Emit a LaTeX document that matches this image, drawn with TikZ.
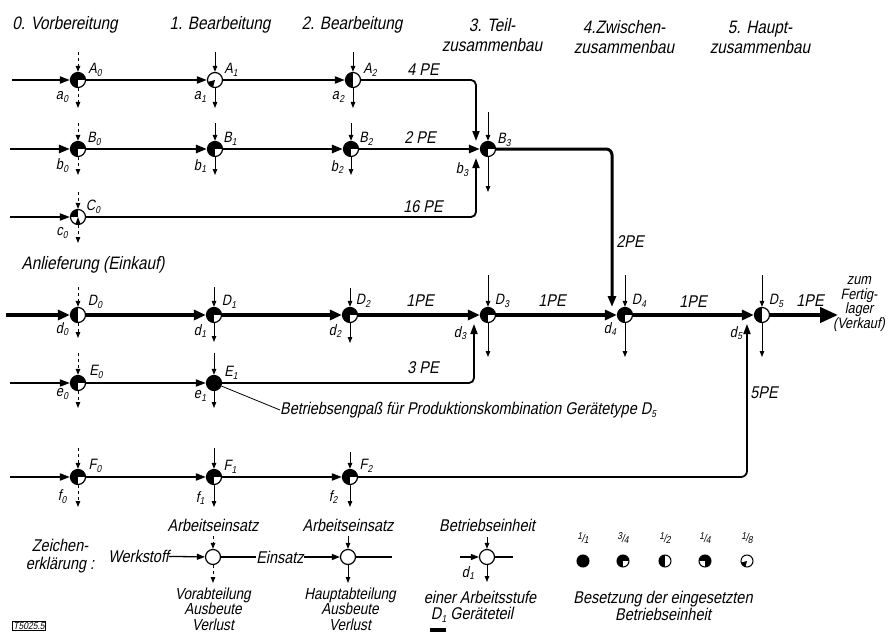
\documentclass[tikz,border=0pt]{standalone}
\usepackage{fontspec}
\setmainfont{Liberation Sans}[FakeStretch=0.85, FakeSlant=0.2]
\usetikzlibrary{arrows.meta}
\newcommand{\Sb}[2]{#1\kern0.2pt\raisebox{-0.35ex}{\fontsize{10}{10}\selectfont #2}}
\newcommand{\frc}[2]{\raisebox{0.45ex}{\fontsize{10}{10}\selectfont #1}\kern-0.5pt/\kern-0.5pt\raisebox{-0.25ex}{\fontsize{10}{10}\selectfont #2}}
\newcommand{\stn}[7]{%
  \node[#4] (#1) at (#2,#3) {};
  \coordinate (#1t) at (#2,#5);
  \coordinate (#1b) at (#2,#6);
  \draw[feed,#7] (#1t) -- (#1);
  \draw[feed,#7] (#1) -- (#1b);
}
\tikzset{
  st0/.style={circle, draw, line width=1.2pt, fill=white, minimum size=15pt, inner sep=0pt},
  f11/.style={st0, fill=black},
  f34/.style={st0, path picture={
      \fill[black] (path picture bounding box.south west) rectangle (path picture bounding box.north east);
      \fill[white] (path picture bounding box.center) rectangle (path picture bounding box.south east);}},
  f12/.style={st0, path picture={
      \fill[black] (path picture bounding box.south west) rectangle (path picture bounding box.north);}},
  f14/.style={st0, path picture={
      \fill[black] (path picture bounding box.south west) rectangle (path picture bounding box.north east);
      \fill[white] (path picture bounding box.center) rectangle (path picture bounding box.south west);}},
  f18/.style={st0, path picture={
      \fill[black] (path picture bounding box.center) -- +(195:14pt) -- +(255:14pt) -- cycle;}},
  fC/.style={st0, path picture={
      \fill[black] (path picture bounding box.center) rectangle (path picture bounding box.north west);
      \fill[black] (path picture bounding box.center) -- +(250:14pt) -- +(290:14pt) -- cycle;}},
  sm/.style={minimum size=12pt, line width=1pt},
  flow/.style={line width=1.8pt, -{Triangle[length=10pt,width=7pt]}},
  flowB/.style={line width=2.6pt, -{Triangle[length=11pt,width=8pt]}},
  flowD/.style={line width=4.2pt, -{Triangle[length=12pt,width=10pt]}},
  flowL/.style={line width=1.3pt, -{Triangle[length=8pt,width=6pt]}},
  feed/.style={line width=1pt, -{Triangle[length=6pt,width=4.5pt]}},
  head/.style={font=\fontsize{18}{19}\selectfont, align=center, inner sep=0pt},
  txt/.style={font=\fontsize{17}{17.5}\selectfont, align=center, inner sep=0pt},
  lab/.style={font=\fontsize{15}{15}\selectfont, inner sep=0pt},
  pe/.style={font=\fontsize{17}{17}\selectfont, inner sep=0pt},
  fr/.style={font=\fontsize{11}{11}\selectfont, inner sep=0pt},
}
\begin{document}
\begin{tikzpicture}[x=1pt,y=-1pt]
\useasboundingbox (0,0) rectangle (887,634);

% headings
\node[head] (h0) at (65,25) {0. Vorbereitung};
\node[head] (h1) at (220,25) {1. Bearbeitung};
\node[head] (h2) at (352,25) {2. Bearbeitung};
\node[head, font=\fontsize{18}{20}\selectfont] (h3) at (492,35) {3. Teil-\\zusammenbau};
\node[head, font=\fontsize{18}{20}\selectfont] (h4) at (624,37) {4.Zwischen-\\zusammenbau};
\node[head, font=\fontsize{18}{20}\selectfont] (h5) at (760,37) {5. Haupt-\\zusammenbau};
\node[head] (anl) at (93,265) {Anlieferung (Einkauf)};

% stations
\stn{A0}{78}{80}{f34}{52}{108}{dashed}
\stn{A1}{215}{80}{f18}{52}{108}{}
\stn{A2}{353}{80}{f12}{52}{108}{}
\stn{B0}{78}{149}{f34}{123}{175}{dashed}
\stn{B1}{215}{149}{f34}{123}{175}{}
\stn{B2}{351}{149}{f34}{123}{175}{}
\stn{B3}{488}{149}{f34}{112}{192}{}
\stn{C0}{78}{217}{fC}{192}{243}{dashed}
\stn{D0}{78}{315}{f12}{287}{338}{dashed}
\stn{D1}{214}{315}{f34}{287}{342}{}
\stn{D2}{350}{315}{f34}{288}{343}{}
\stn{D3}{488}{315}{f34}{275}{357}{}
\stn{D4}{625}{315}{f34}{275}{357}{}
\stn{D5}{762}{315}{f12}{275}{357}{}
\stn{E0}{78}{383}{f34}{353}{408}{dashed}
\stn{E1}{214}{383}{f11}{353}{408}{}
\stn{F0}{78}{477}{f34}{448}{507}{dashed}
\stn{F1}{214}{477}{f34}{448}{507}{}
\stn{F2}{350}{477}{f34}{452}{507}{}

% station labels
\node[lab] (A0u) at (95,70) {\Sb{A}{0}};
\node[lab] (A0l) at (62,97) {\Sb{a}{0}};
\node[lab] (A1u) at (231,70) {\Sb{A}{1}};
\node[lab] (A1l) at (200,97) {\Sb{a}{1}};
\node[lab] (A2u) at (370,70) {\Sb{A}{2}};
\node[lab] (A2l) at (338,97) {\Sb{a}{2}};
\node[lab] (B0u) at (94,139) {\Sb{B}{0}};
\node[lab] (B0l) at (62,166) {\Sb{b}{0}};
\node[lab] (B1u) at (230,139) {\Sb{B}{1}};
\node[lab] (B1l) at (200,166) {\Sb{b}{1}};
\node[lab] (B2u) at (366,139) {\Sb{B}{2}};
\node[lab] (B2l) at (337,167) {\Sb{b}{2}};
\node[lab] (B3u) at (504,140) {\Sb{B}{3}};
\node[lab] (B3l) at (462,170) {\Sb{b}{3}};
\node[lab] (C0u) at (93,207) {\Sb{C}{0}};
\node[lab] (C0l) at (62,233) {\Sb{c}{0}};
\node[lab] (D0u) at (95,302) {\Sb{D}{0}};
\node[lab] (D0l) at (62,329) {\Sb{d}{0}};
\node[lab] (D1u) at (229,302) {\Sb{D}{1}};
\node[lab] (D1l) at (200,331) {\Sb{d}{1}};
\node[lab] (D2u) at (363,301) {\Sb{D}{2}};
\node[lab] (D2l) at (335,331) {\Sb{d}{2}};
\node[lab] (D3u) at (502,301) {\Sb{D}{3}};
\node[lab] (D3l) at (460,333) {\Sb{d}{3}};
\node[lab] (D4u) at (639,301) {\Sb{D}{4}};
\node[lab] (D4l) at (610,329) {\Sb{d}{4}};
\node[lab] (D5u) at (776,301) {\Sb{D}{5}};
\node[lab] (D5l) at (736,333) {\Sb{d}{5}};
\node[lab] (E0u) at (96,372) {\Sb{E}{0}};
\node[lab] (E0l) at (62,394) {\Sb{e}{0}};
\node[lab] (E1u) at (231,373) {\Sb{E}{1}};
\node[lab] (E1l) at (200,396) {\Sb{e}{1}};
\node[lab] (F0u) at (95,466) {\Sb{F}{0}};
\node[lab] (F0l) at (62,497) {\Sb{f}{0}};
\node[lab] (F1u) at (230,467) {\Sb{F}{1}};
\node[lab] (F1l) at (200,498) {\Sb{f}{1}};
\node[lab] (F2u) at (366,466) {\Sb{F}{2}};
\node[lab] (F2l) at (333,497) {\Sb{f}{2}};

% flow coordinates
\coordinate (Ain) at (12,80);
\coordinate (Ac) at (476,80);
\coordinate (Aend) at (476,141);
\coordinate (Bin) at (10,149);
\coordinate (Bc) at (612,149);
\coordinate (Bend) at (612,307);
\coordinate (Cin) at (10,217);
\coordinate (Cc) at (476,217);
\coordinate (Cend) at (476,158);
\coordinate (Din) at (6,315);
\coordinate (Dout) at (838,315);
\coordinate (Ein) at (10,383);
\coordinate (Ec) at (474,383);
\coordinate (Eend) at (474,324);
\coordinate (Fin) at (10,477);
\coordinate (Fc) at (747,477);
\coordinate (Fend) at (747,324);

% row A
\draw[flow] (Ain) -- (A0);
\draw[flow] (A0) -- (A1);
\draw[flow] (A1) -- (A2);
\draw[flow, rounded corners=5pt] (A2) -- (Ac) -- (Aend);
% row B
\draw[flowB] (Bin) -- (B0);
\draw[flowB] (B0) -- (B1);
\draw[flowB] (B1) -- (B2);
\draw[flowB] (B2) -- (B3);
\draw[flowB, line width=3pt, rounded corners=6pt] (B3) -- (Bc) -- (Bend);
% row C
\draw[flow] (Cin) -- (C0);
\draw[flow, rounded corners=5pt] (C0) -- (Cc) -- (Cend);
% row D
\draw[flowD] (Din) -- (D0);
\draw[flowD] (D0) -- (D1);
\draw[flowD] (D1) -- (D2);
\draw[flowD] (D2) -- (D3);
\draw[flowD] (D3) -- (D4);
\draw[flowD] (D4) -- (D5);
\draw[line width=4.2pt, -{Triangle[length=18pt,width=15pt]}] (D5) -- (Dout);
% row E
\draw[flow] (Ein) -- (E0);
\draw[flow] (E0) -- (E1);
\draw[flow, rounded corners=5pt] (E1) -- (Ec) -- (Eend);
% row F
\draw[flow] (Fin) -- (F0);
\draw[flow] (F0) -- (F1);
\draw[flow] (F1) -- (F2);
\draw[flow, rounded corners=6pt] (F2) -- (Fc) -- (Fend);

% PE labels
\node[pe] (pe4) at (423,70) {4 PE};
\node[pe] (pe2) at (420,138) {2 PE};
\node[pe] (pe16) at (423,207) {16 PE};
\node[pe] (pe1a) at (420,301) {1PE};
\node[pe] (pe1b) at (552,301) {1PE};
\node[pe] (pe1c) at (693,302) {1PE};
\node[pe] (pe1d) at (810,301) {1PE};
\node[pe] (pe3) at (423,368) {3 PE};
\node[pe] (pe2b) at (630,242) {2PE};
\node[pe] (pe5) at (764,393) {5PE};
\node[txt, font=\fontsize{15}{14.8}\selectfont] (fert) at (859,304) {zum\\Fertig-\\lager\\(Verkauf)};

% bottleneck note
\node[txt, anchor=west] (engp) at (280,410) {Betriebsengpaß für Produktionskombination Gerätetype \Sb{D}{5}};
\draw[line width=0.8pt] (E1) -- (engp.west);

% legend
\node[txt] (zei) at (60,556) {Zeichen-\\erklärung :};
\node[txt, anchor=east] (werk) at (169,556) {Werkstoff};
\node[txt] (ae1) at (213,525) {Arbeitseinsatz};
\stn{L1}{213}{557}{st0}{536}{583}{dashed}
\draw[flowL] (werk) -- (L1);
\node[txt] (eins) at (280,557) {Einsatz};
\draw[line width=1.3pt] (L1) -- (eins);
\node[txt, font=\fontsize{16}{15.5}\selectfont] (vor) at (213,609) {Vorabteilung\\Ausbeute\\Verlust};
\node[txt] (ae2) at (348,525) {Arbeitseinsatz};
\stn{L2}{348}{557}{st0}{536}{583}{}
\draw[flowL] (eins) -- (L2);
\coordinate (L2r) at (392,557);
\draw[line width=1.3pt] (L2) -- (L2r);
\node[txt, font=\fontsize{16}{15.5}\selectfont] (haupt) at (350,609) {Hauptabteilung\\Ausbeute\\Verlust};
\node[txt] (bet) at (487,525) {Betriebseinheit};
\stn{L3}{487}{557}{st0}{537}{582}{}
\coordinate (L3l) at (460,557);
\coordinate (L3r) at (513,557);
\draw[flowL] (L3l) -- (L3);
\draw[line width=1.3pt] (L3) -- (L3r);
\node[lab] (L3d) at (468,573) {\Sb{d}{1}};
\node[txt] (ein) at (480,597) {einer Arbeitsstufe};
\node[txt] (geraet) at (472,615) {\Sb{D}{1} Geräteteil};
\fill (430,628) rectangle (446,632);

% occupation legend
\node[f11, sm] (o1) at (583,561) {};
\node[f34, sm] (o2) at (623,561) {};
\node[f12, sm] (o3) at (665,561) {};
\node[f14, sm] (o4) at (705,561) {};
\node[f18, sm] (o5) at (747,561) {};
\node[fr] (o1t) at (583,538) {\frc{1}{1}};
\node[fr] (o2t) at (623,538) {\frc{3}{4}};
\node[fr] (o3t) at (665,538) {\frc{1}{2}};
\node[fr] (o4t) at (705,538) {\frc{1}{4}};
\node[fr] (o5t) at (747,538) {\frc{1}{8}};
\node[txt] (bes) at (663,606) {Besetzung der eingesetzten\\Betriebseinheit};

\node[draw, line width=0.8pt, inner sep=1pt, font=\fontsize{10}{10}\selectfont] (tag) at (29,626) {T5025.5};
\end{tikzpicture}
\end{document}
